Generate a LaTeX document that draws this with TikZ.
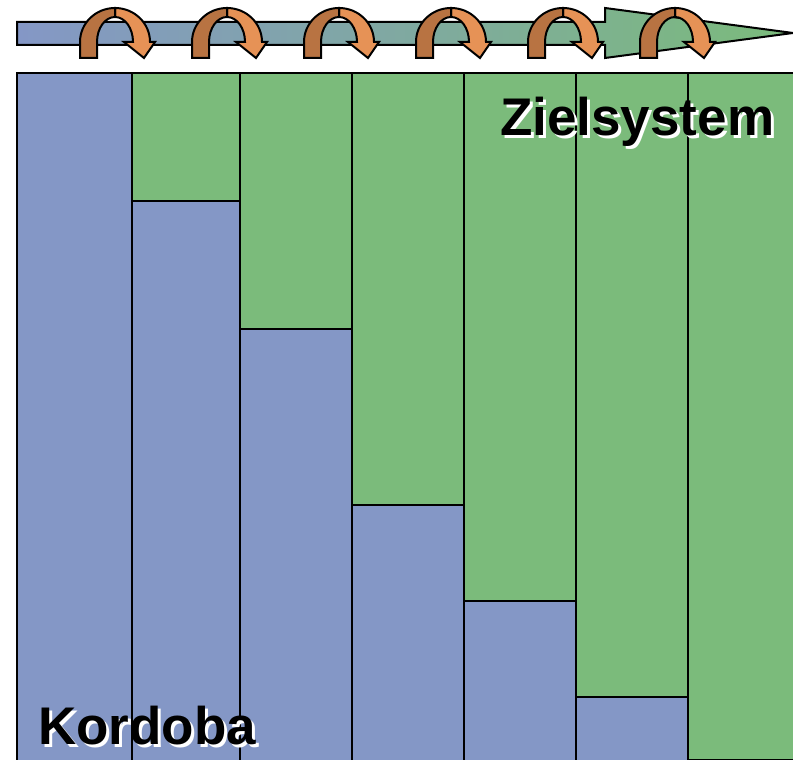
\documentclass[tikz,border=0pt]{standalone}
\usepackage{fontspec}
\setmainfont{Liberation Sans}
\definecolor{kordobablue}{RGB}{132,151,198}
\definecolor{zielgreen}{RGB}{123,187,123}
\definecolor{turndark}{RGB}{184,115,66}
\definecolor{turnlight}{RGB}{230,146,86}
\begin{document}
\begin{tikzpicture}[
    x=1pt, y=1pt,
    column/.style={draw=black, line width=2pt},
    label/.style={inner sep=0pt, anchor=base west, font=\fontsize{53}{60}\selectfont\bfseries},
    turn/.style={draw=black, line width=2pt, line join=miter}
]
    \useasboundingbox (0,0) rectangle (793,760);

    % Columns: blue part (Kordoba) below, green part (Zielsystem) above
    \foreach \xa/\xb/\yb in {17/132/687, 132/240/559, 240/352/431, 352/464/255, 464/576/159, 576/688/63, 688/800/0} {
        \fill[zielgreen] (\xa,\yb) rectangle (\xb,687);
        \fill[kordobablue] (\xa,0) rectangle (\xb,\yb);
        \draw[column] (\xa,0) -- (\xa,687) -- (\xb,687) -- (\xb,0);
        \draw[column] (\xa,\yb) -- (\xb,\yb);
    }

    % Time arrow
    \shade[left color=kordobablue, right color=zielgreen]
        (17,715) -- (17,738) -- (605,738) -- (605,752) -- (793,727) -- (605,702) -- (605,715) -- cycle;
    \draw[line width=2pt, line join=miter]
        (17,715) -- (17,738) -- (605,738) -- (605,752) -- (793,727) -- (605,702) -- (605,715) -- cycle;

    % Turning arrows: dark left half, light right half with head
    \foreach \dx in {0,112,224,336,448,560} {
        \begin{scope}[xshift=\dx pt]
            \filldraw[turn, fill=turnlight] (115,752) arc[start angle=90, end angle=0, x radius=35, y radius=34]
                -- (155,718) -- (144,702) -- (124,718) -- (133,718)
                arc[start angle=0, end angle=90, x radius=18, y radius=25] -- cycle;
            \filldraw[turn, fill=turndark] (80,702) -- (80,718) arc[start angle=180, end angle=90, x radius=35, y radius=34]
                -- (115,743) arc[start angle=90, end angle=180, x radius=18, y radius=25] -- (97,702) -- cycle;
        \end{scope}
    }

    % Labels
    \node[label, white] (zielshadow) at (503,621) {Zielsystem};
    \node[label] (ziel) at (500,624) {Zielsystem};
    \node[label, white] (kordobashadow) at (41,12) {Kordoba};
    \node[label] (kordoba) at (38,15) {Kordoba};
\end{tikzpicture}
\end{document}
